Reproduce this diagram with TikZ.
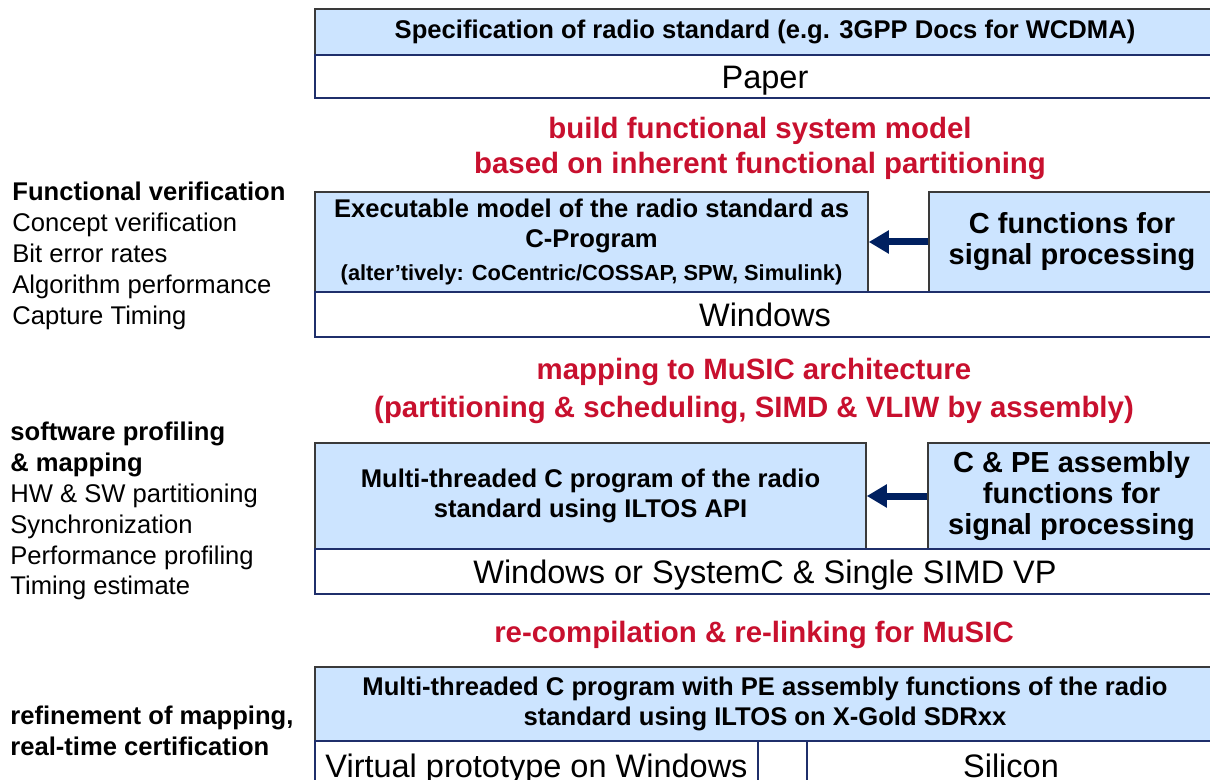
\documentclass[tikz,border=0pt]{standalone}
\usepackage{fontspec}
\setmainfont{Liberation Sans}
\usetikzlibrary{arrows.meta,positioning}
\definecolor{rsblue}{HTML}{CCE4FF}
\definecolor{rsnavy}{HTML}{1F2F6B}
\definecolor{rsedge}{HTML}{3A3A3A}
\definecolor{rsred}{HTML}{C8102E}
\definecolor{rsarrow}{HTML}{002060}
\tikzset{
  spec/.style={draw=rsedge,fill=rsblue,line width=0.75pt,inner sep=2pt,align=center,
               font=\fontsize{12.8}{15}\selectfont\bfseries},
  side/.style={spec,font=\fontsize{14.5}{15.5}\selectfont\bfseries},
  plat/.style={draw=rsnavy,fill=white,line width=0.75pt,inner sep=0pt,
               text height=11.6pt,text depth=0pt,font=\fontsize{16.25}{18}\selectfont},
  phase/.style={text=rsred,align=center,inner sep=0pt,font=\fontsize{14.7}{17.5}\selectfont\bfseries},
  note/.style={anchor=north west,align=left,inner sep=0pt,font=\fontsize{12.8}{15.4}\selectfont},
  ar/.style={-{Triangle[length=10pt,width=11pt]},line width=3.5pt,rsarrow},
}
\begin{document}
\begin{tikzpicture}[x=0.5pt,y=-0.5pt]
    \clip (0,0) rectangle (1210,780);
    % design flow, top to bottom
    \node[spec,minimum width=450pt,minimum height=23pt] (std) at (765,32)
      {Specification of radio standard (e.g. 3GPP Docs for WCDMA)};
    \node[plat,minimum width=450pt,minimum height=21.5pt] (paper) at (765,76.5) {Paper};
    \node[phase] (build) at (760,148)
      {build functional system model\\based on inherent functional partitioning};
    \node[spec,minimum width=276.5pt,minimum height=50pt] (exec) at (591.5,242)
      {Executable model of the radio standard as\\C-Program\\[1.5pt]
       {\fontsize{10.9}{13}\selectfont (alter’tively: CoCentric/COSSAP, SPW, Simulink)}};
    \node[side,minimum width=143pt,minimum height=50pt] (cfun) at (1072,242)
      {C functions for\\signal processing};
    \node[plat,minimum width=450pt,minimum height=22.5pt] (win) at (765,314.5) {Windows};
    \node[phase,font=\fontsize{14.7}{19}\selectfont\bfseries] (map) at (754,391)
      {mapping to MuSIC architecture\\(partitioning \& scheduling, SIMD \& VLIW by assembly)};
    \node[spec,minimum width=275.5pt,minimum height=53pt] (mt) at (590.5,496)
      {Multi-threaded C program of the radio\\standard using ILTOS API};
    \node[side,minimum width=143.5pt,minimum height=53pt] (cpe) at (1071.5,496)
      {C \& PE assembly\\functions for\\signal processing};
    \node[plat,minimum width=450pt,minimum height=22.5pt] (winsc) at (765,571.5)
      {Windows or SystemC \& Single SIMD VP};
    \node[phase] (recomp) at (754,635) {re-compilation \& re-linking for MuSIC};
    \node[spec,minimum width=450pt,minimum height=37pt] (gold) at (765,704)
      {Multi-threaded C program with PE assembly functions of the radio\\standard using ILTOS on X-Gold SDRxx};
    \node[plat,minimum width=221.5pt,minimum height=24.5pt] (vp) at (536.5,765.5)
      {Virtual prototype on Windows};
    \node[plat,minimum width=24.5pt,minimum height=24.5pt] (gap) at (782.5,765.5) {};
    \node[plat,minimum width=204pt,minimum height=24.5pt] (si) at (1011,765.5) {Silicon};
    \draw[ar] (cfun.west) -- (exec.east);
    \draw[ar] (cpe.west) -- (mt.east);
    % verification goals on the left
    \node[note] (fv) at (12,182)
      {\textbf{Functional verification}\\Concept verification\\Bit error rates\\
       Algorithm performance\\Capture Timing};
    \node[note] (sp) at (10,422)
      {\textbf{software profiling}\\\textbf{\& mapping}\\HW \& SW partitioning\\
       Synchronization\\Performance profiling\\Timing estimate};
    \node[note] (rm) at (10,706)
      {\textbf{refinement of mapping,}\\\textbf{real-time certification}};
\end{tikzpicture}
\end{document}
